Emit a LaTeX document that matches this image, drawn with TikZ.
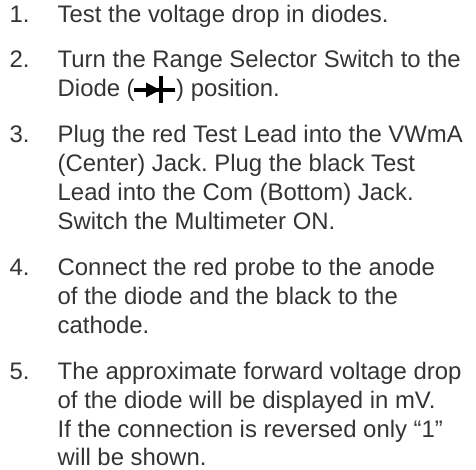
\documentclass[tikz,border=0pt]{standalone}
\usepackage{fontspec}
\setmainfont{Liberation Sans}
\definecolor{txt}{HTML}{343436}
\tikzset{num/.style={anchor=base west,inner sep=0pt,text=txt,font=\fontsize{23.9bp}{28.8bp}\selectfont\frenchspacing},
body/.style={num},
glyph/.style={draw=black,line width=4.4bp}}
\begin{document}
\begin{tikzpicture}[x=1bp,y=-1bp]
\useasboundingbox (0,0) rectangle (476,470);
\node[num] (n1) at (9.5,23) {1.};
\node[body] (t1) at (57.5,23) {Test the voltage drop in diodes.};
\node[num] (n2) at (9.5,68) {2.};
\node[body] (t2a) at (57.5,68) {Turn the Range Selector Switch to the};
\node[body] (t2b) at (57.5,96.8) {Diode (};
\coordinate (g1) at (134,90);
\coordinate (g2) at (175,90);
\coordinate (g3) at (161,76);
\coordinate (g4) at (161,103);
\draw[glyph] (g1) -- (g2);
\draw[glyph] (g3) -- (g4);
\fill[black] (146,82.5) -- (160,90) -- (146,97.5) -- cycle;
\node[body] (t2c) at (176,96.8) {) position.};
\node[num] (n3) at (9.5,143) {3.};
\node[body] (t3a) at (57.5,143) {Plug the red Test Lead into the VWmA};
\node[body] (t3b) at (57.5,171.8) {(Center) Jack. Plug the black Test};
\node[body] (t3c) at (57.5,200.6) {Lead into the Com (Bottom) Jack.};
\node[body] (t3d) at (57.5,229.4) {Switch the Multimeter ON.};
\node[num] (n4) at (9.5,275.5) {4.};
\node[body] (t4a) at (57.5,275.5) {Connect the red probe to the anode};
\node[body] (t4b) at (57.5,304.3) {of the diode and the black to the};
\node[body] (t4c) at (57.5,333.1) {cathode.};
\node[num] (n5) at (9.5,379.5) {5.};
\node[body] (t5a) at (57.5,379.5) {The approximate forward voltage drop};
\node[body] (t5b) at (57.5,408.3) {of the diode will be displayed in mV.};
\node[body] (t5c) at (57.5,437.1) {If the connection is reversed only “1”};
\node[body] (t5d) at (57.5,465.9) {will be shown.};
\end{tikzpicture}
\end{document}
